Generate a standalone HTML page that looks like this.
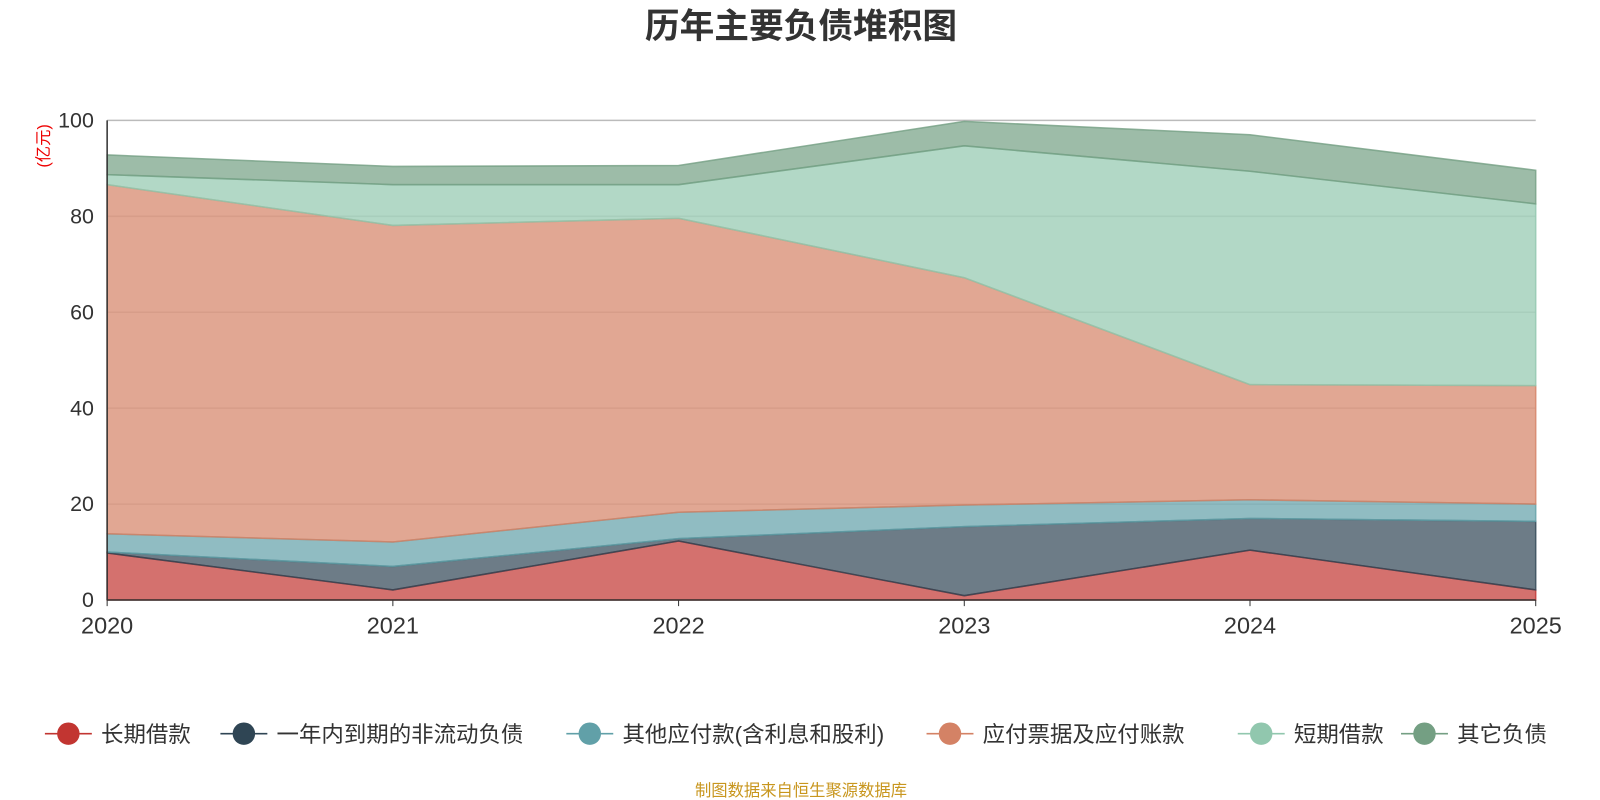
<!DOCTYPE html>
<html><head><meta charset="utf-8"><style>
html,body{margin:0;padding:0;overflow:hidden;width:1600px;height:800px;background:#fff;font-family:"Liberation Sans","Noto Sans CJK SC",sans-serif}
svg{display:block}
svg text{font-family:"Liberation Sans","Noto Sans CJK SC",sans-serif}
</style></head><body>
<svg id="chart" width="1600" height="800" viewBox="0 0 1568 784">
<text x="785" y="37" text-anchor="middle" font-size="34" font-weight="bold" fill="#333">历年主要负债堆积图</text>
<text transform="translate(48,143) rotate(-90)" text-anchor="middle" font-size="16" fill="#e00">(亿元)</text>
<g id="grid"></g><g id="areas"></g><g id="axes"></g><g id="legend"></g>
<text x="785" y="780" text-anchor="middle" font-size="16" fill="#c8961e">制图数据来自恒生聚源数据库</text>
</svg>
<script>
const years=["2020","2021","2022","2023","2024","2025"];
const seriesNames=["长期借款","一年内到期的非流动负债","其他应付款(含利息和股利)","应付票据及应付账款","短期借款","其它负债"];
const s1=[9.8,2.1,12.3,0.9,10.4,2.1];
const s2=[0.2,4.9,0.5,14.4,6.6,14.3];
const s3=[3.8,5.1,5.5,4.5,3.9,3.6];
const s4=[72.8,66.0,61.3,47.4,24.0,24.7];
const s5=[2.1,8.5,7.0,27.5,44.5,37.9];
const s6=[4.1,3.8,4.0,5.1,7.6,7.0];
const yTicks=[0,20,40,60,80,100];
const colors=["#c23531","#2f4554","#61a0a8","#d48265","#91c7ae","#749f83"];
const series=[s1,s2,s3,s4,s5,s6];
const NS="http://www.w3.org/2000/svg";
const x=i=>105+i*(1400/(years.length-1));
const y=v=>588-v*4.7;
function mk(t,a,p){const e=document.createElementNS(NS,t);for(const k in a)e.setAttribute(k,a[k]);p.appendChild(e);return e;}
const grid=document.getElementById('grid'),areas=document.getElementById('areas'),axes=document.getElementById('axes'),legend=document.getElementById('legend');
yTicks.forEach(t=>{
 if(t>0){const l=mk('line',{x1:105,x2:1505,y1:y(t),y2:y(t),stroke:t==100?'#bbb':'#ddd','stroke-width':1.5},grid);
 
 }
 const tx=mk('text',{x:92,y:y(t)+7,'text-anchor':'end','font-size':21,fill:'#333'},axes);tx.textContent=t;
 
 
});
let cum=years.map(()=>0);
series.forEach((s,k)=>{
 const lo=cum.slice();cum=cum.map((c,i)=>c+s[i]);
 let d=cum.map((c,i)=>(i?'L':'M')+x(i)+','+y(c)).join('');
 for(let i=years.length-1;i>=0;i--)d+='L'+x(i)+','+y(lo[i]);
 const p=mk('path',{d:d+'Z',fill:colors[k],'fill-opacity':0.7,stroke:colors[k],'stroke-width':1.5,'stroke-opacity':0.8},areas);
 
 
});
mk('line',{x1:105,x2:105,y1:118,y2:588,stroke:'#333','stroke-width':1.5},axes);
mk('line',{x1:105,x2:1505,y1:588,y2:588,stroke:'#333','stroke-width':1.5},axes);
years.forEach((yr,i)=>{
 mk('line',{x1:x(i),x2:x(i),y1:588,y2:594,stroke:'#333'},axes);
 const t=mk('text',{x:x(i),y:621,'text-anchor':'middle','font-size':23,fill:'#333'},axes);t.textContent=yr;
 
 
});
const lx=[44,216,555,908,1213,1373];
seriesNames.forEach((n,k)=>{
 const g=mk('g',{},legend);
 
 
 mk('line',{x1:lx[k],x2:lx[k]+46,y1:719,y2:719,stroke:colors[k],'stroke-width':1.5},g);
 mk('circle',{cx:lx[k]+23,cy:719,r:11,fill:colors[k]},g);
 const t=mk('text',{x:lx[k]+55,y:727,'font-size':22,fill:'#333'},g);t.textContent=n;
});
</script>
</body></html>
